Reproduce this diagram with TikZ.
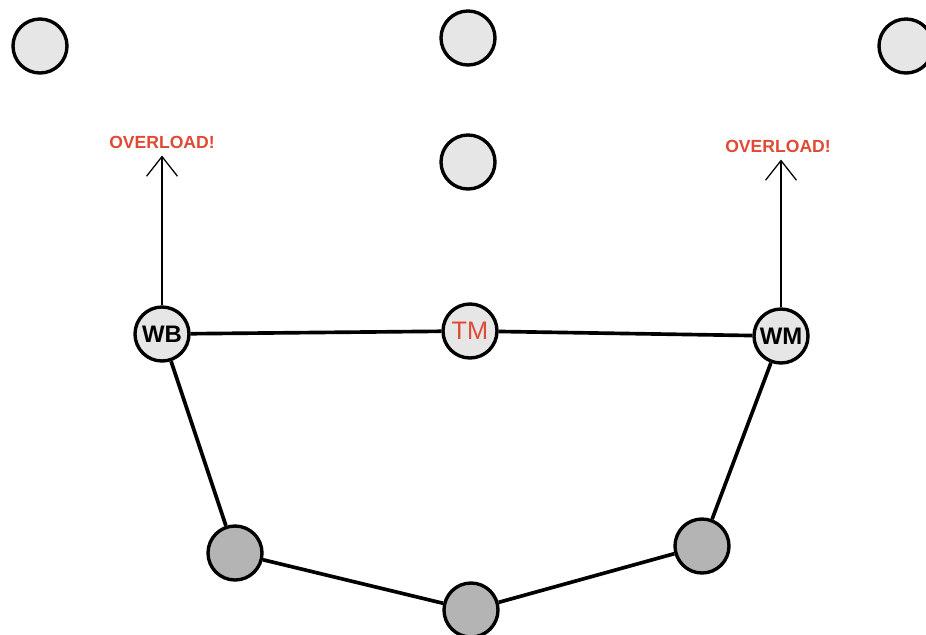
\documentclass[tikz,border=0pt]{standalone}
\usepackage{fontspec}
\setmainfont{Liberation Sans}
\usepackage{xcolor}
\usepackage{tikz}
\usetikzlibrary{arrows.meta,positioning}

\definecolor{warnred}{HTML}{E04A34}
\definecolor{lightdisc}{HTML}{E6E6E6}
\definecolor{darkdisc}{HTML}{B4B4B4}

\begin{document}
\begin{tikzpicture}[
    x=0.025cm, y=-0.025cm,
    player/.style={circle, draw=black, line width=2.4pt, fill=lightdisc, minimum size=1.35cm, inner sep=0pt, font=\fontsize{17}{17}\selectfont\bfseries},
    back/.style={player, fill=darkdisc},
    warning/.style={font=\fontsize{12.5}{12.5}\selectfont\bfseries, text=warnred, inner sep=5pt},
    link/.style={line width=2.6pt},
    run/.style={line width=0.9pt, -{Straight Barb[length=14pt, width=22pt, line width=0.9pt]}},
]
\useasboundingbox (0,0) rectangle (926,634);

% Top row
\node[player] (topleft) at (40,46) {};
\node[player] (topmid) at (468,38) {};
\node[player] (topright) at (906,46) {};
\node[player] (midmid) at (468,162) {};

% Middle line
\node[player] (wb) at (162,334) {WB};
\node[player, text=warnred, font=\fontsize{18}{18}\selectfont] (tm) at (470,331) {TM};
\node[player] (wm) at (781,336) {WM};

% Back line
\node[back] (backleft) at (235,553) {};
\node[back] (backmid) at (471,610) {};
\node[back] (backright) at (702,546) {};

% Overload labels
\node[warning] (overleft) at (162,142) {OVERLOAD!};
\node[warning] (overright) at (778,146) {OVERLOAD!};

% Links
\draw[link] (wb) -- (tm);
\draw[link] (tm) -- (wm);
\draw[link] (wb) -- (backleft);
\draw[link] (backleft) -- (backmid);
\draw[link] (backmid) -- (backright);
\draw[link] (backright) -- (wm);

% Runs
\draw[run] (wb) -- (overleft.south);
\draw[run] (wm.north) -- (wm.north |- overright.south);

\end{tikzpicture}
\end{document}
